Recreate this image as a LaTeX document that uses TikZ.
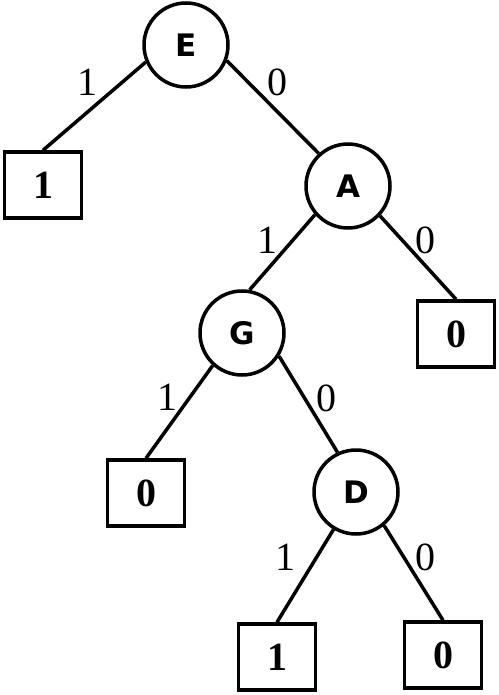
\documentclass[tikz,border=0pt]{standalone}
\usepackage{fontspec}
\setmainfont{Liberation Serif}
\newfontfamily\keyfont{DejaVu Sans}

\begin{document}
\begin{tikzpicture}[x=1pt, y=-1pt, line width=3.5pt,
        keynode/.style={draw, circle, minimum size=84pt, inner sep=0pt, font=\keyfont\bfseries\fontsize{31}{36}\selectfont},
        leafbox/.style={draw, rectangle, minimum width=77pt, minimum height=66pt, inner sep=0pt, font=\bfseries\fontsize{40}{48}\selectfont},
        bit/.style={font=\fontsize{40}{48}\selectfont}]
        \useasboundingbox (0,0) rectangle (498,695);
        % keys and leaves
        \node[keynode] (E) at (186,45) {E};
        \node[keynode] (A) at (348,186) {A};
        \node[keynode] (G) at (242,333) {G};
        \node[keynode] (D) at (356,492) {D};
        \node[leafbox] (l1) at (43,185) {1};
        \node[leafbox] (l2) at (456,334) {0};
        \node[leafbox] (l3) at (146,493) {0};
        \node[leafbox] (l4) at (277,657) {1};
        \node[leafbox] (l5) at (443,655) {0};

        % branches
        \draw (E.203) -- (l1.north);
        \draw (E.339) -- (A.132);
        \draw (A.221) -- (G.80);
        \draw (A.317) -- (l2.north);
        \draw (G.228) -- (l3.north);
        \draw (G.328) -- (D.115);
        \draw (D.239) -- (l4.north);
        \draw (D.310) -- (l5.north);

        % branch bits
        \node[bit] (bE1) at (87,82) {1};
        \node[bit] (bE0) at (277,82) {0};
        \node[bit] (bA1) at (267,240) {1};
        \node[bit] (bA0) at (425,240) {0};
        \node[bit] (bG1) at (167,397) {1};
        \node[bit] (bG0) at (326,398) {0};
        \node[bit] (bD1) at (285,557) {1};
        \node[bit] (bD0) at (425,557) {0};
    \end{tikzpicture}
\end{document}
